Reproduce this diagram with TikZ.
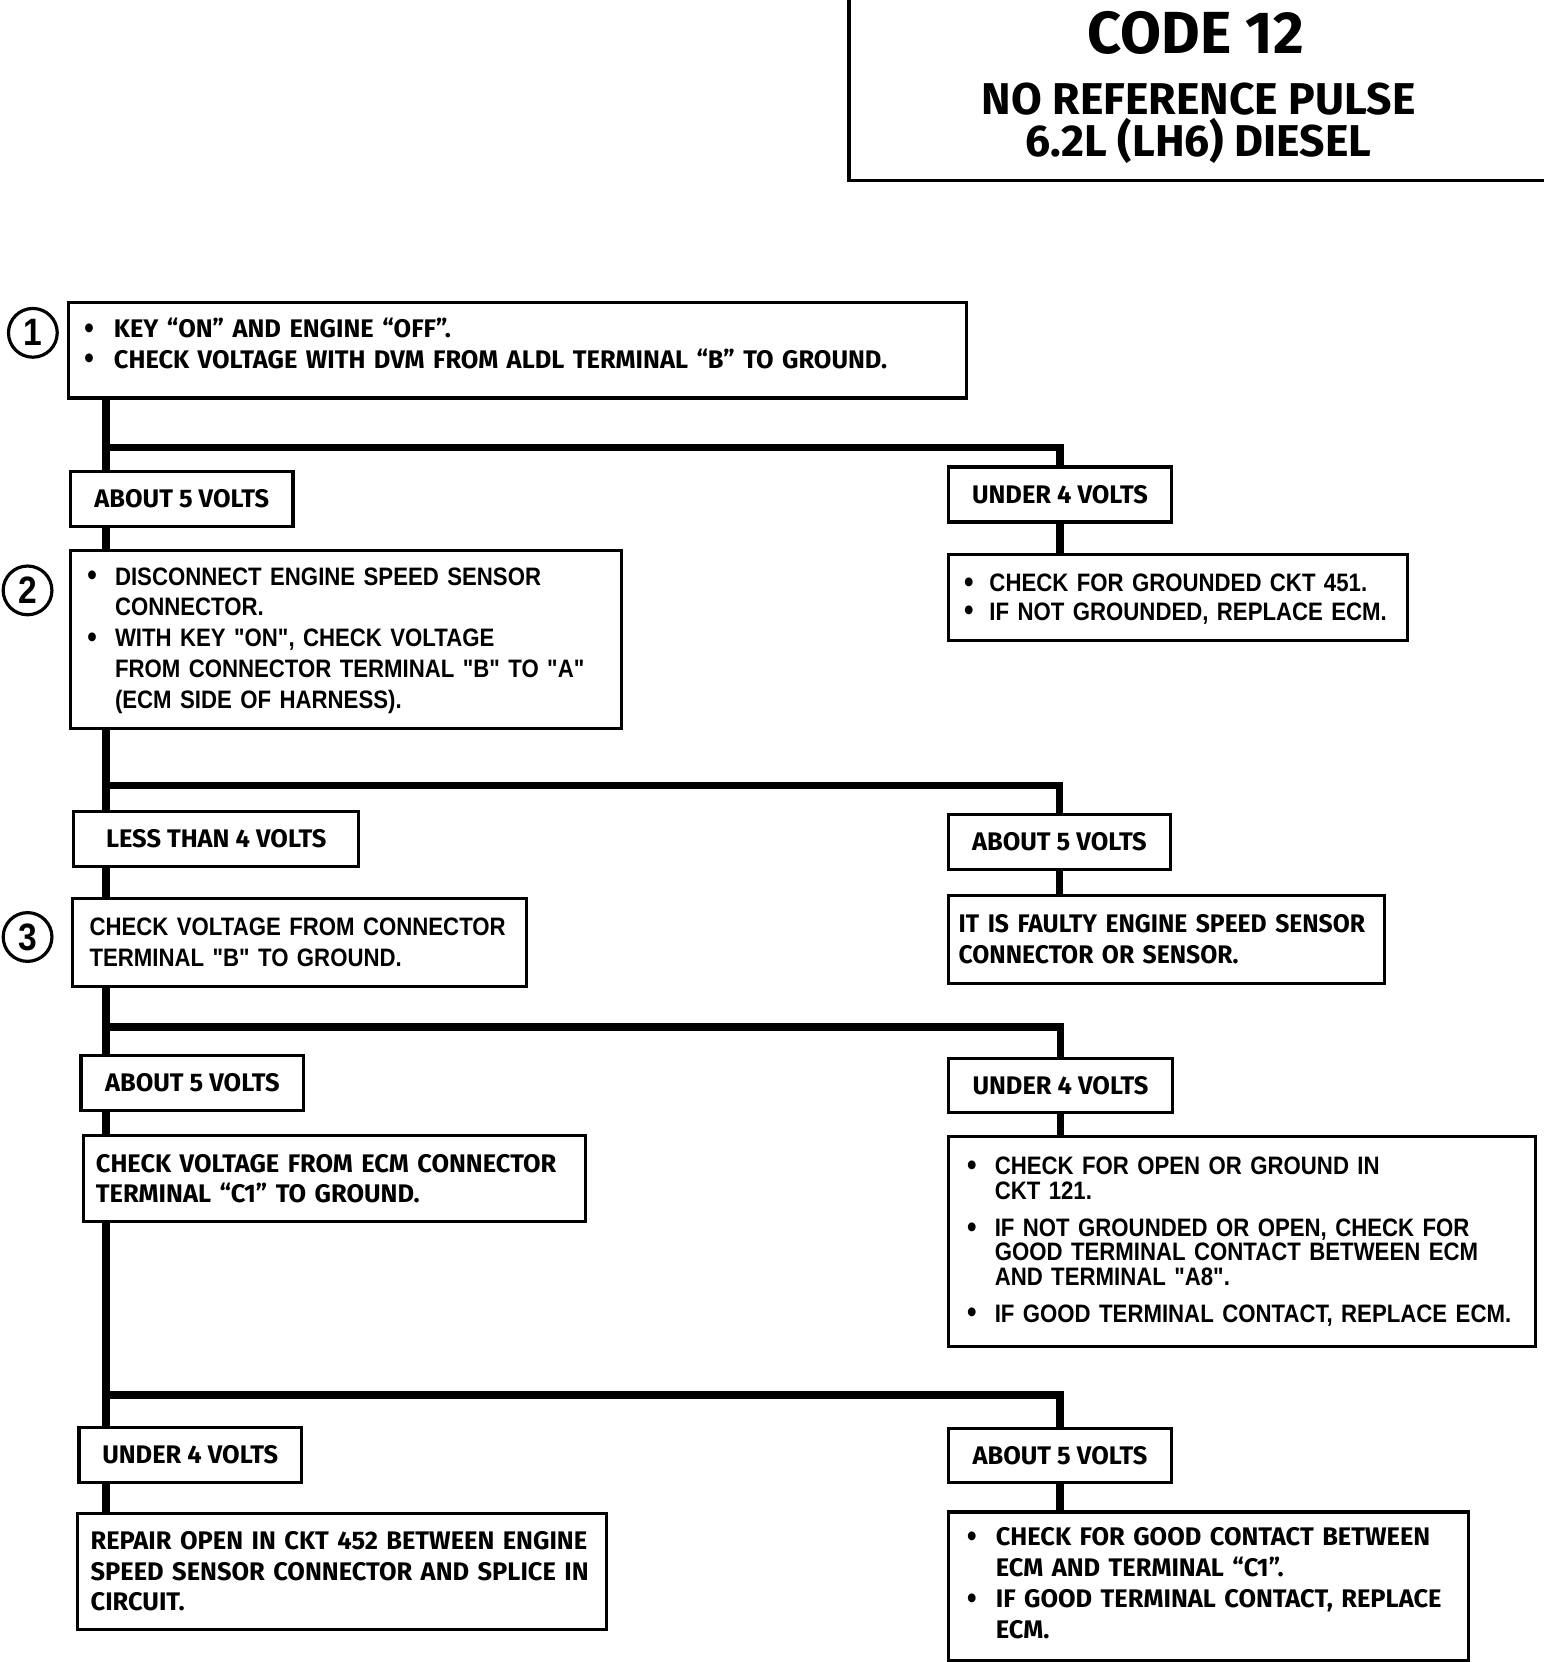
\documentclass[tikz,border=0pt]{standalone}
\usepackage{fontspec}
\usepackage{tikz}
\newfontfamily\capsfont{Fira Sans}
\newfontfamily\helvfont{Liberation Sans}[FakeStretch=0.88]
\newcommand{\bitem}[2][14pt]{\par\noindent\hangindent=#1\hangafter=1%
  \makebox[#1][l]{\raisebox{-0.3pt}{\helvfont\fontsize{14.5}{0}\selectfont\textbullet}}#2\par}
\newcommand{\lift}[1]{\rule[-#1]{0pt}{0pt}}

\begin{document}
\begin{tikzpicture}[x=0.5pt,y=-0.5pt]
  \tikzset{
    answer/.style={draw,line width=1.5pt,anchor=north west,inner sep=0pt,
      minimum width=105pt,minimum height=26pt,
      font=\capsfont\bfseries\fontsize{12}{14.5}\selectfont},
    action/.style={draw,line width=1.5pt,anchor=north west,inner ysep=0pt,
      align=left,font=\capsfont\bfseries\fontsize{12}{14.5}\selectfont},
    plain/.style={action,font=\helvfont\bfseries\fontsize{11.9}{14.5}\selectfont},
    marker/.style={circle,draw,line width=1.5pt,minimum size=23pt,inner sep=0pt,
      font=\helvfont\bfseries\fontsize{18}{18}\selectfont},
    trunk/.style={line width=3.5pt},
    frame/.style={line width=1.5pt}
  }
  \useasboundingbox (0,0) rectangle (1479,1568);

  % title block
  \draw[frame] (801,0) |- (1457,170);
  \node[font=\capsfont\bfseries\fontsize{28}{28}\selectfont] (title) at (1128,31) {CODE 12};
  \node[align=center,font=\capsfont\bfseries\fontsize{21}{20}\selectfont] (subtitle) at (1131,116)
    {NO REFERENCE PULSE\\6.2L (LH6) DIESEL};

  % step 1
  \node[action,inner xsep=7.5pt,minimum width=423.5pt,minimum height=45pt,text width=408.5pt] (b1) at (63,284)
    {\bitem{KEY “ON” AND ENGINE “OFF”.}\bitem{CHECK VOLTAGE WITH DVM FROM ALDL TERMINAL “B” TO GROUND.\lift{12pt}}};
  \node[marker] (n1) at (31,314) {1};
  \node[answer] (a1) at (65,443) {ABOUT 5 VOLTS};
  \node[answer,minimum width=105.5pt] (u1) at (893,439) {UNDER 4 VOLTS};
  \node[plain,inner xsep=7.5pt,minimum width=216.5pt,minimum height=40.5pt,text width=201.5pt,
    font=\helvfont\bfseries\fontsize{11.9}{13.5}\selectfont] (r1) at (893,522)
    {\bitem[12pt]{CHECK FOR GROUNDED CKT 451.}\bitem[12pt]{IF NOT GROUNDED, REPLACE ECM.\lift{6pt}}};

  % step 2
  \node[plain,inner xsep=8pt,minimum width=260pt,minimum height=84pt,text width=244pt] (b2) at (65,518)
    {\bitem[13pt]{DISCONNECT ENGINE SPEED SENSOR\newline CONNECTOR.}\bitem[13pt]{WITH KEY "ON", CHECK VOLTAGE\newline FROM CONNECTOR TERMINAL "B" TO "A"\newline (ECM SIDE OF HARNESS).\lift{8pt}}};
  \node[marker] (n2) at (26,557) {2};
  \node[answer,minimum width=134.5pt] (a2) at (68,764) {LESS THAN 4 VOLTS};
  \node[answer] (u2) at (893,767) {ABOUT 5 VOLTS};
  \node[action,inner xsep=5pt,minimum width=206pt,minimum height=41.5pt,text width=196pt] (r2) at (893,843)
    {\addfontfeatures{FakeStretch=0.97}IT IS FAULTY ENGINE SPEED SENSOR\\CONNECTOR OR SENSOR.};

  % step 3
  \node[plain,inner xsep=8pt,minimum width=214pt,minimum height=41.5pt,text width=198pt] (b3) at (67,846)
    {CHECK VOLTAGE FROM CONNECTOR\\TERMINAL "B" TO GROUND.};
  \node[marker] (n3) at (26,884) {3};
  \node[answer] (a3) at (75,994) {ABOUT 5 VOLTS};
  \node[answer,minimum width=106pt,minimum height=25.5pt] (u3) at (893,997) {UNDER 4 VOLTS};
  \node[action,inner xsep=6pt,minimum width=237pt,minimum height=40.5pt,text width=225pt] (b4) at (77,1070)
    {CHECK VOLTAGE FROM ECM CONNECTOR\\TERMINAL “C1” TO GROUND.};
  \node[plain,inner xsep=9pt,minimum width=277pt,minimum height=99pt,text width=259pt,
    font=\helvfont\bfseries\fontsize{11.9}{11.5}\selectfont] (r3) at (893,1071)
    {\bitem[13pt]{CHECK FOR OPEN OR GROUND IN\newline CKT 121.}\vspace{6pt}%
     \bitem[13pt]{IF NOT GROUNDED OR OPEN, CHECK FOR\newline GOOD TERMINAL CONTACT BETWEEN ECM\newline AND TERMINAL "A8".}\vspace{6pt}%
     \bitem[13pt]{IF GOOD TERMINAL CONTACT, REPLACE ECM.\lift{5pt}}};

  % final checks
  \node[answer] (a4) at (73,1345) {UNDER 4 VOLTS};
  \node[answer,minimum width=105.5pt,minimum height=25.5pt] (u4) at (893,1346) {ABOUT 5 VOLTS};
  \node[action,inner xsep=6pt,minimum width=249.5pt,minimum height=55pt,text width=237.5pt] (b5) at (72,1426)
    {REPAIR OPEN IN CKT 452 BETWEEN ENGINE\\SPEED SENSOR CONNECTOR AND SPLICE IN\\CIRCUIT.};
  \node[action,inner xsep=9pt,minimum width=245.5pt,minimum height=70pt,text width=227.5pt] (r4) at (893,1425)
    {\bitem[13.5pt]{CHECK FOR GOOD CONTACT BETWEEN\newline ECM AND TERMINAL “C1”.}\bitem[13.5pt]{IF GOOD TERMINAL CONTACT, REPLACE\newline ECM.\lift{9pt}}};

  % connectors
  \coordinate (spine) at (100,0);
  \coordinate (j1) at (100,422);
  \coordinate (j2) at (100,741);
  \coordinate (j3) at (100,969);
  \coordinate (j4) at (100,1316);
  \draw[trunk] (spine |- b1.south) -- (spine |- a1.north);
  \draw[trunk] (spine |- a1.south) -- (spine |- b2.north);
  \draw[trunk] (spine |- b2.south) -- (spine |- a2.north);
  \draw[trunk] (spine |- a2.south) -- (spine |- b3.north);
  \draw[trunk] (spine |- b3.south) -- (spine |- a3.north);
  \draw[trunk] (spine |- a3.south) -- (spine |- b4.north);
  \draw[trunk] (spine |- b4.south) -- (spine |- a4.north);
  \draw[trunk] (spine |- a4.south) -- (spine |- b5.north);
  \draw[trunk] (j1) -| (u1.north);
  \draw[trunk] (j2) -| (u2.north);
  \draw[trunk] (j3) -| (u3.north);
  \draw[trunk] (j4) -| (u4.north);
  \draw[trunk] (u1.south) -- (u1.south |- r1.north);
  \draw[trunk] (u2.south) -- (u2.south |- r2.north);
  \draw[trunk] (u3.south) -- (u3.south |- r3.north);
  \draw[trunk] (u4.south) -- (u4.south |- r4.north);
\end{tikzpicture}
\end{document}
